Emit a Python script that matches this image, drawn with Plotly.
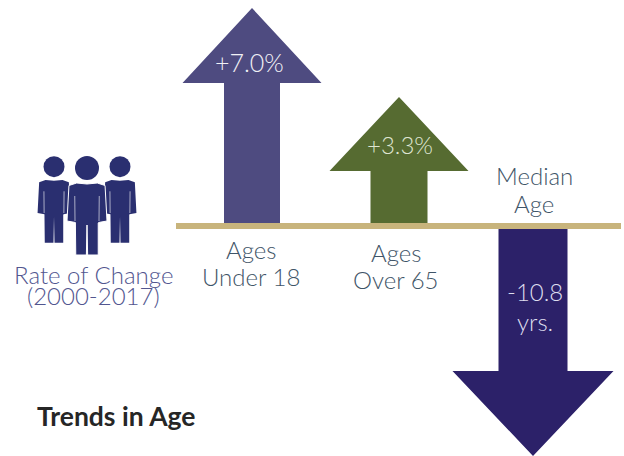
import plotly.graph_objects as go

# Figures shown on the arrows
categories = ["Ages Under 18", "Ages Over 65", "Median Age"]
values = [7.0, 3.3, -10.8]
value_labels = ["+7.0%", "+3.3%", "-10.8", "yrs."]
arrow_reach = [215, 126, -227]  # pictographic length from the baseline, not to scale with the values

arrow_colors = ["#4e4b80", "#566b31", "#2c2169"]
arrow_centers = [252, 399, 533]
shaft_half = [28, 28.5, 34.5]
head_half = [69.5, 69.5, 80.5]
head_depth = [75, 74, 85]

BASE_TOP, BASE_BOTTOM = 223, 229
INK = "#3f5568"
PEOPLE = "#2a2f70"
LIGHT = "Lato Light, Lato, sans-serif"

fig = go.Figure()


def poly(xs, ys, color, line=0, line_color=None):
    fig.add_trace(go.Scatter(
        x=xs, y=ys, mode="lines", fill="toself", fillcolor=color,
        line=dict(color=line_color or color, width=line), hoverinfo="skip", showlegend=False,
    ))


# Arrows rising from, or hanging off, the baseline
for cx, reach, sh, hh, hd, col in zip(arrow_centers, arrow_reach, shaft_half, head_half, head_depth, arrow_colors):
    start = BASE_TOP if reach > 0 else BASE_BOTTOM
    sign = 1 if reach > 0 else -1
    tip = start - reach
    neck = tip + sign * hd
    poly([cx - sh, cx - sh, cx - hh, cx, cx + hh, cx + sh, cx + sh, cx - sh],
         [start, neck, neck, tip, neck, neck, start, start], col)

# Baseline
poly([176, 621, 621, 176, 176], [BASE_TOP, BASE_TOP, BASE_BOTTOM, BASE_BOTTOM, BASE_TOP], "#c8b47c")


# Group-of-people icon
def person(cx, top, sx, sy, head_y, head_r, outline=0):
    xs = [-14, -8, 0, 8, 14, 15.5, 9, 8.7, 8.7, 0.5, 0, -0.5, -8.7, -8.7, -9, -15.5, -14]
    ys = [2.5, 0, 1, 0, 2.5, 38, 39.5, 40, 72, 72, 42, 72, 72, 40, 39.5, 38, 2.5]
    poly([cx + x * sx for x in xs], [top + y * sy for y in ys], PEOPLE,
         line=outline, line_color="white" if outline else None)
    fig.add_shape(type="circle", x0=cx - head_r, x1=cx + head_r, y0=head_y - head_r, y1=head_y + head_r,
                  fillcolor=PEOPLE, line_width=0)
    # slim gaps between arms and torso
    for side in (-1, 1):
        fig.add_trace(go.Scatter(
            x=[cx + side * 9.5 * sx, cx + side * 9.3 * sx], y=[top + 13 * sy, top + 38 * sy], mode="lines",
            line=dict(color="rgba(255,255,255,0.75)", width=0.8), hoverinfo="skip", showlegend=False,
        ))


person(54, 180, 1.06, 0.87, 166.7, 10.5)
person(120, 180, 1.06, 0.87, 166.7, 10.5)
# the front figure carries a thin white outline so it separates from the other two
person(87, 183, 1.29, 1.0, 168, 12, outline=1)


def label(x, y, text, color=INK, size=24, family=LIGHT, xanchor="center"):
    fig.add_annotation(x=x, y=y, text=text, showarrow=False, xanchor=xanchor, yanchor="middle",
                       font=dict(family=family, size=size, color=color))


label(251, 249.5, "Ages")
label(251, 276.5, "Under 18")
label(396, 252.5, "Ages")
label(396, 279.5, "Over 65")
label(534, 175.5, "Median")
label(534, 203.5, "Age")
label(93, 274.5, "Rate of Change", color="#52568f")
label(93, 295.5, "(2000-2017)", color="#52568f")
label(249.5, 62, value_labels[0], color="#f1f1f6", size=25)
label(399.5, 144, value_labels[1], color="#dfe5d2", size=24)
label(535, 291.5, value_labels[2], color="#ddddee")
label(535, 321.5, value_labels[3], color="#ddddee")
label(34.5, 416, "<b>Trends in Age</b>", color="#262626", size=26.5, family="Lato, sans-serif", xanchor="left")

fig.update_layout(
    width=624, height=456, margin=dict(l=0, r=0, t=0, b=0),
    paper_bgcolor="white", plot_bgcolor="white", showlegend=False,
    xaxis=dict(range=[0, 624], visible=False, fixedrange=True),
    yaxis=dict(range=[456, 0], visible=False, fixedrange=True),
)
fig.write_html("out.html", config={"displayModeBar": False})
